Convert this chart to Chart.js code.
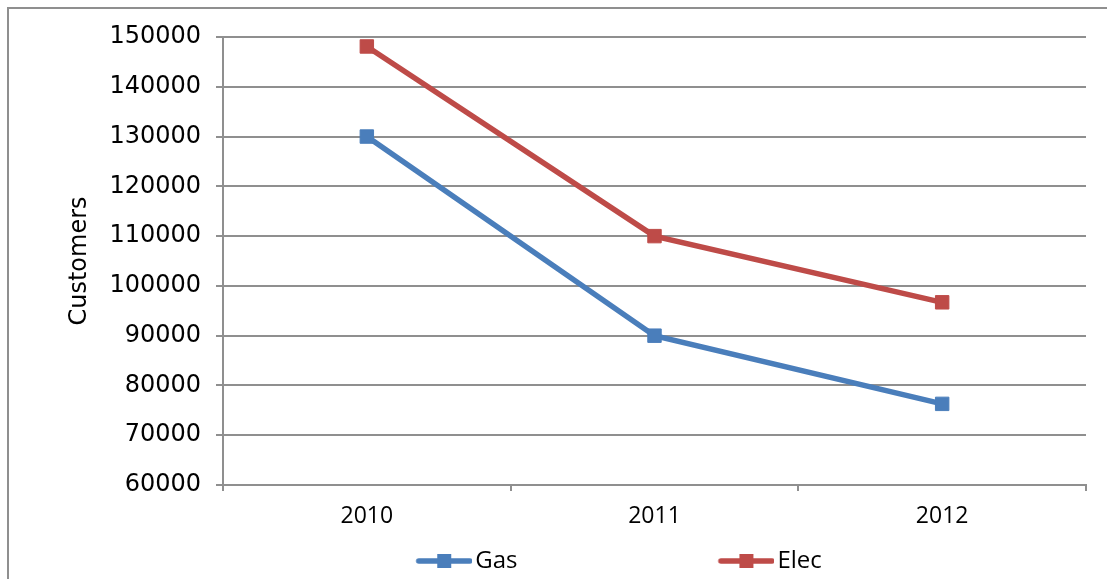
<!DOCTYPE html>
<html>

<head>
  <meta charset="utf-8">
  <title>Customers</title>
  <script src="https://cdn.jsdelivr.net/npm/chart.js@4.4.1/dist/chart.umd.min.js"></script>
  <style>
    html,
    body {
      margin: 0;
      padding: 0;
      background: #fff;
      overflow: hidden;
    }

    body {
      position: relative;
      width: 1107px;
      height: 579px;
    }

    /* outer chart frame, only top and left edges are inside the page */
    #frame {
      position: absolute;
      left: 7px;
      top: 7px;
      width: 1120px;
      height: 600px;
      border-top: 2px solid #8f8f8f;
      border-left: 2px solid #8f8f8f;
    }

    /* canvas is shifted left so the centred legend sits under the first two years */
    #custChart {
      position: absolute;
      left: -39px;
      top: 0;
    }
  </style>
</head>

<body>
  <div id="frame"></div>
  <canvas id="custChart" width="1146" height="583"></canvas>

  <script>
    const years = ['2010', '2011', '2012'];
    const gasCustomers = [130000, 90000, 76300];
    const elecCustomers = [148100, 110000, 96700];
    const yMin = 60000;
    const yMax = 150000;
    const yStep = 10000;

    const gasColor = '#4a7ebb';
    const elecColor = '#be4b48';
    const gridColor = '#8f8f8f';

    // legend swatch: a short thick line with a square marker on it,
    // padded on the left so the text lands where it should
    function swatch(color) {
      const c = document.createElement('canvas');
      c.width = 256;
      c.height = 16;
      const g = c.getContext('2d');
      g.strokeStyle = color;
      g.lineWidth = 5.5;
      g.lineCap = 'round';
      g.beginPath();
      g.moveTo(202.5, 8);
      g.lineTo(253.5, 8);
      g.stroke();
      g.fillStyle = color;
      g.fillRect(221, 1, 14, 14);
      return c;
    }
    const swatches = [swatch(gasColor), swatch(elecColor)];

    const ctx = document.getElementById('custChart').getContext('2d');
    const chart = new Chart(ctx, {
      type: 'line',
      data: {
        labels: years,
        datasets: [{
          label: 'Gas',
          data: gasCustomers,
          borderColor: gasColor,
          backgroundColor: gasColor,
          borderWidth: 5.5,
          pointStyle: 'rect',
          pointRadius: 9.5,
          pointBorderWidth: 1,
          pointBackgroundColor: gasColor,
          pointBorderColor: gasColor,
          tension: 0
        }, {
          label: 'Elec',
          data: elecCustomers,
          borderColor: elecColor,
          backgroundColor: elecColor,
          borderWidth: 5.5,
          pointStyle: 'rect',
          pointRadius: 9.5,
          pointBorderWidth: 1,
          pointBackgroundColor: elecColor,
          pointBorderColor: elecColor,
          tension: 0
        }]
      },
      options: {
        responsive: false,
        animation: false,
        layout: {
          padding: { left: 0, top: 37, right: 21, bottom: 0 }
        },
        scales: {
          x: {
            offset: true,
            grid: {
              offset: true,
              drawOnChartArea: false,
              drawTicks: true,
              tickLength: 6,
              color: gridColor,
              lineWidth: 2
            },
            border: { display: true, color: gridColor, width: 2 },
            ticks: {
              padding: 12,
              color: '#000',
              font: { family: '"Open Sans"', size: 23 }
            },
            afterFit(scale) {
              scale.height = 54;
            }
          },
          y: {
            min: yMin,
            max: yMax,
            grid: {
              color: gridColor,
              lineWidth: 2,
              tickLength: 7
            },
            border: { display: true, color: gridColor, width: 2 },
            ticks: {
              stepSize: yStep,
              padding: 15,
              color: '#000',
              font: { family: '"DejaVu Sans"', size: 24 },
              // plain numbers, no thousands separator
              callback: (value) => String(value)
            },
            title: {
              display: true,
              text: 'Customers',
              color: '#000',
              font: { family: '"DejaVu Sans"', size: 24 },
              padding: { top: 104, bottom: 0 }
            },
            afterFit(scale) {
              scale.width = 262;
            }
          }
        },
        plugins: {
          tooltip: { enabled: false },
          legend: {
            position: 'bottom',
            labels: {
              usePointStyle: true,
              pointStyleWidth: 238,
              padding: 10,
              color: '#000',
              font: { family: '"Open Sans"', size: 24 },
              generateLabels(chart) {
                const items = Chart.defaults.plugins.legend.labels.generateLabels(chart);
                items.forEach((item, i) => {
                  item.pointStyle = swatches[i];
                });
                return items;
              }
            }
          }
        }
      }
    });
  </script>
</body>

</html>
